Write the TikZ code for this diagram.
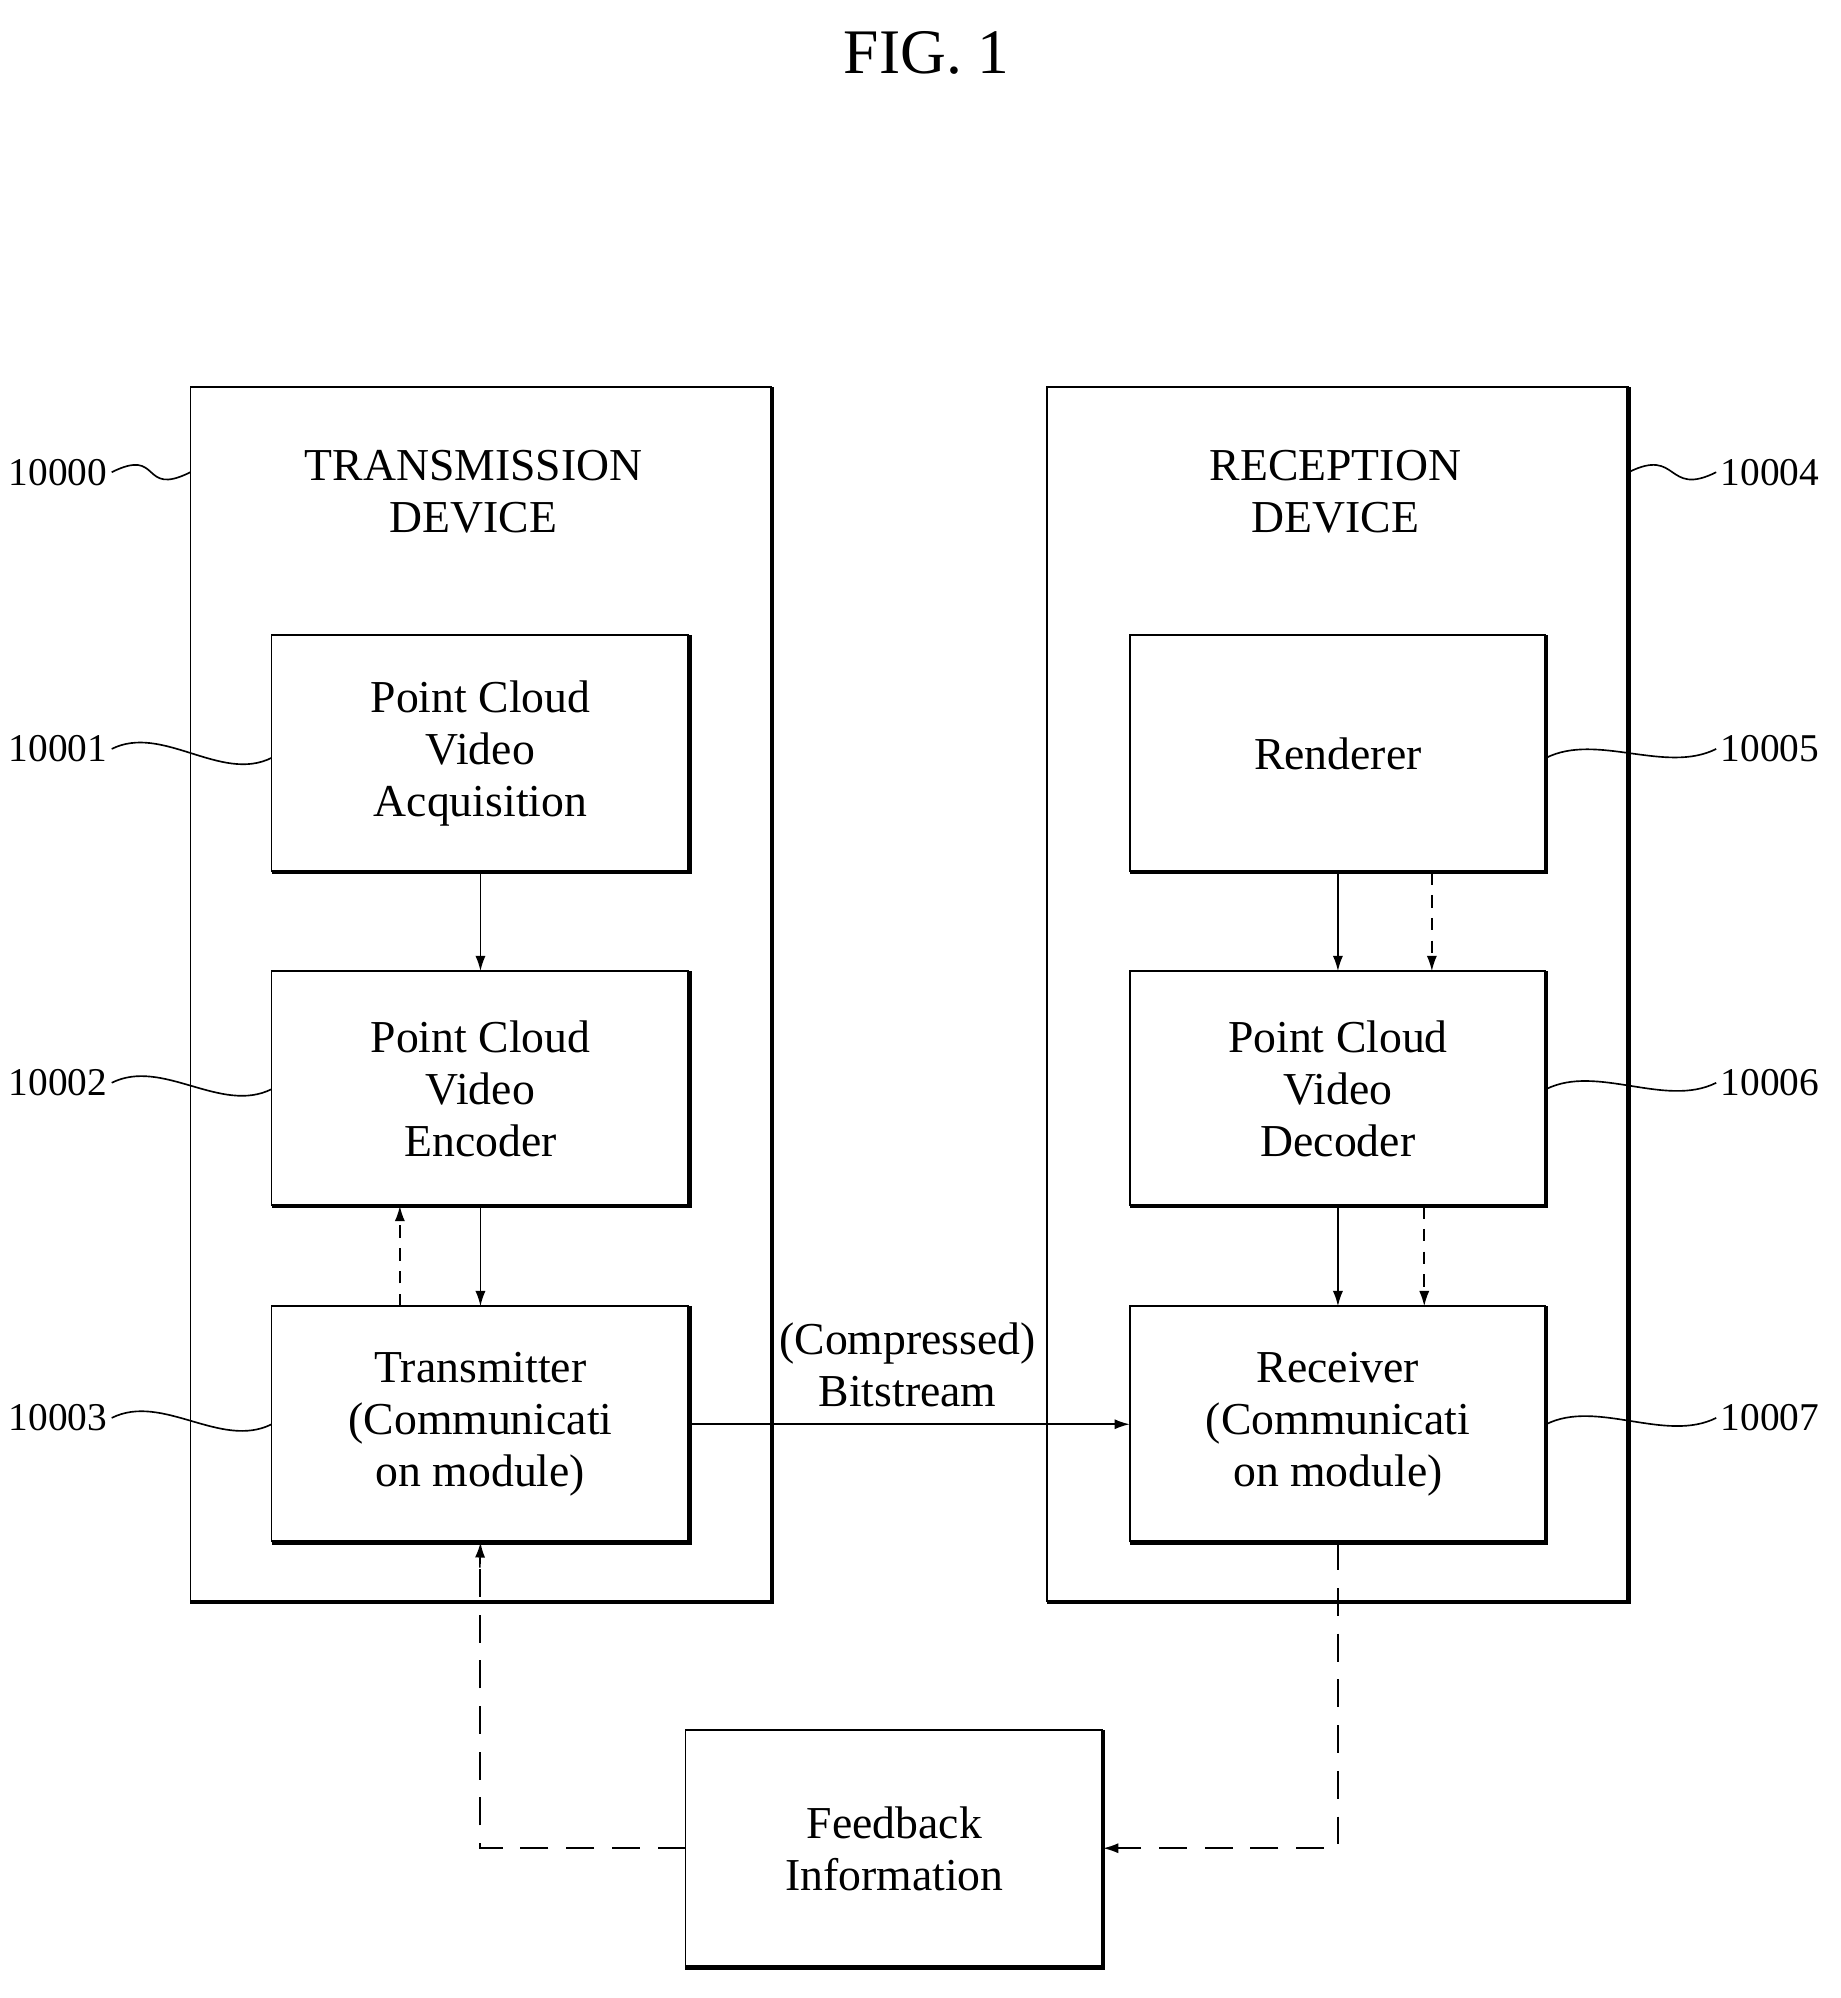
\documentclass[tikz,border=0pt]{standalone}
\usepackage{fontspec}
\setmainfont{Liberation Serif}
\usetikzlibrary{arrows.meta}
\begin{document}
\begin{tikzpicture}[x=1pt,y=-1pt,
  txt/.style={font=\fontsize{36}{41}\selectfont,align=center},
  lbl/.style={font=\fontsize{31}{34}\selectfont},
  lead/.style={line width=1.3pt},
  arr/.style={line width=1.3pt,-{Latex[length=12pt,width=8pt]}},
  darr/.style={line width=1.3pt,dash pattern=on 10pt off 8pt,-{Latex[length=12pt,width=8pt]}},
  dline/.style={line width=1.3pt,dash pattern=on 22pt off 14pt}]
\useasboundingbox (0,0) rectangle (1450,1574);
\newcommand{\mybox}[5]{% name, x1,y1,x2,y2
  \draw[line width=1.3pt] (#2,#5) -- (#2,#3) -- (#4,#3);
  \draw[line width=3.5pt] (#2,#5) -- (#4,#5) -- (#4,#3);
  \coordinate (#1) at ({(#2+#4)/2},{(#3+#5)/2});
  \coordinate (#1-n) at ({(#2+#4)/2},#3);
  \coordinate (#1-s) at ({(#2+#4)/2},#5);
  \coordinate (#1-w) at (#2,{(#3+#5)/2});
  \coordinate (#1-e) at (#4,{(#3+#5)/2});}
\node[font=\fontsize{50}{56}\selectfont] (title) at (730,42) {FIG. 1};
\mybox{tx}{150}{305}{608}{1262}
\mybox{rx}{825}{305}{1283}{1262}
\node[txt] (txl) at (373,387) {TRANSMISSION\\DEVICE};
\node[txt] (rxl) at (1052,387) {RECEPTION\\DEVICE};
\mybox{acq}{214}{500}{543}{687}
\mybox{enc}{214}{765}{543}{950}
\mybox{tsm}{214}{1029}{543}{1215}
\mybox{ren}{890}{500}{1218}{687}
\mybox{dec}{890}{765}{1218}{950}
\mybox{rcv}{890}{1029}{1218}{1215}
\mybox{fb}{540}{1363}{869}{1550}
\node[txt] (acqt) at (acq) {Point Cloud\\Video\\Acquisition};
\node[txt] (enct) at (enc) {Point Cloud\\Video\\Encoder};
\node[txt] (tsmt) at (tsm) {Transmitter\\(Communicati\\on module)};
\node[txt] (rent) at (ren) {Renderer};
\node[txt] (dect) at (dec) {Point Cloud\\Video\\Decoder};
\node[txt] (rcvt) at (rcv) {Receiver\\(Communicati\\on module)};
\node[txt] (fbt) at (fb) {Feedback\\Information};
\node[txt] (bs) at (715,1075) {(Compressed)\\Bitstream};
\foreach \n/\t/\y in {l0/10000/372,l1/10001/590,l2/10002/853,l3/10003/1117}{
  \node[lbl,anchor=east] (\n) at (88,\y) {\t};}
\foreach \n/\t/\y in {r4/10004/372,r5/10005/590,r6/10006/853,r7/10007/1117}{
  \node[lbl,anchor=west] (\n) at (1352,\y) {\t};}
\foreach \n/\x/\y in {l0/150/372,l1/214/597,l2/214/858,l3/214/1122}{
  \draw[lead] (\n.east) .. controls +(40,-20) and +(-40,20) .. (\x,\y);}
\foreach \n/\x/\y in {r4/1283/372,r5/1218/597,r6/1218/858,r7/1218/1122}{
  \draw[lead] (\n.west) .. controls +(-40,20) and +(40,-20) .. (\x,\y);}
\draw[arr] (acq-s) -- (enc-n);
\draw[arr] (enc-s) -- (tsm-n);
\coordinate (a1) at (315,1029); \coordinate (a2) at (315,950);
\draw[darr] (a1) -- (a2);
\coordinate (r1) at (1054,687); \coordinate (r2) at (1054,765);
\coordinate (r3) at (1128,687); \coordinate (r4c) at (1128,765);
\coordinate (d1) at (1054,950); \coordinate (d2) at (1054,1029);
\coordinate (d3) at (1122,950); \coordinate (d4) at (1122,1029);
\draw[arr] (r1) -- (r2);
\draw[darr] (r3) -- (r4c);
\draw[arr] (d1) -- (d2);
\draw[darr] (d3) -- (d4);
\draw[arr] (tsm-e) -- (rcv-w);
\coordinate (c0) at (1054,1215);
\coordinate (c1) at (1054,1456);
\coordinate (c2) at (378,1456);
\coordinate (c3) at (378,1235);
\coordinate (c4) at (887,1456);
\draw[dline] (c0) -- (c1) -- (c4);
\draw[arr] (c4) -- (fb-e |- c1);
\draw[dline] (fb-w |- c2) -- (c2) -- (c3);
\draw[arr] (c3) -- (tsm-s);
\end{tikzpicture}
\end{document}
